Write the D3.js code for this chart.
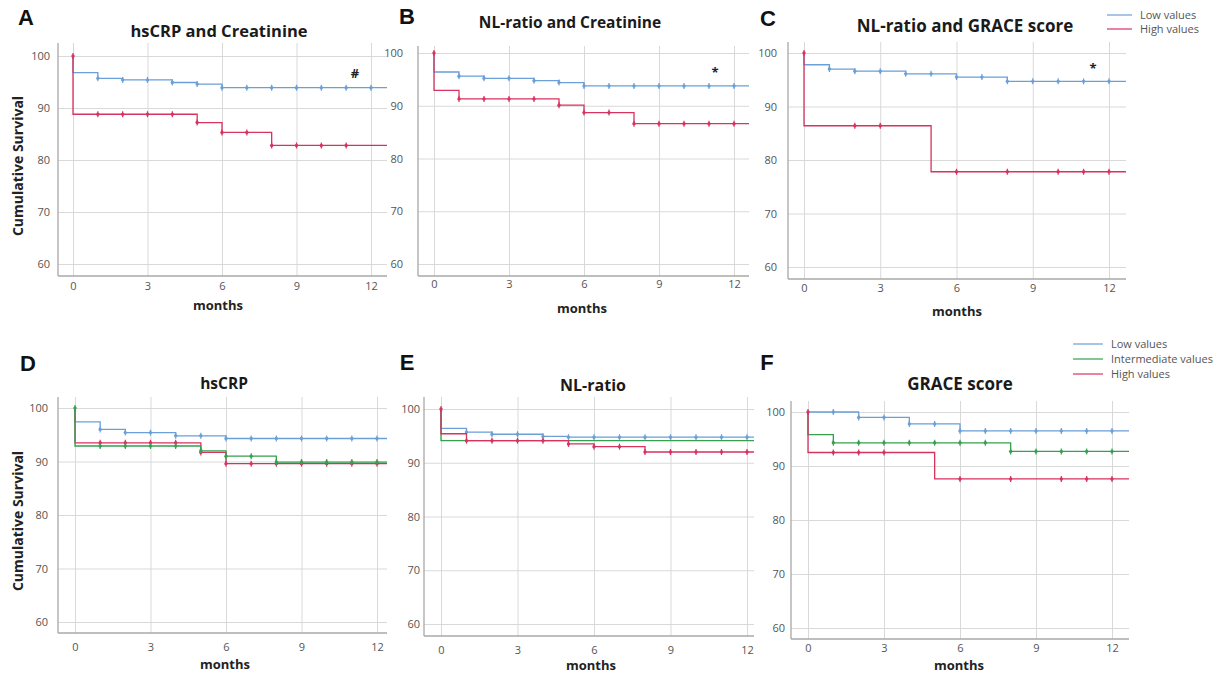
<!DOCTYPE html>
<html>
<head>
<meta charset="utf-8">
<script src="https://cdn.jsdelivr.net/npm/d3@7"></script>
<style>
body { margin: 0; background: #fff; }
text { font-family: "Open Sans", sans-serif; }
</style>
</head>
<body>
<svg width="1224" height="676"></svg>
<script>
// months of follow-up, one value per month (level after that month's step)
var months = d3.range(0, 13);
var yTicks = [60, 70, 80, 90, 100];
var xTicks = [0, 3, 6, 9, 12];

// A - hsCRP and Creatinine
var aLow  = [96.8, 95.7, 95.4, 95.4, 94.9, 94.6, 93.9, 93.9, 93.9, 93.9, 93.9, 93.9, 93.9];
var aLowCens  = [1, 2, 3, 4, 5, 6, 7, 8, 9, 10, 11, 12];
var aHigh = [88.8, 88.8, 88.8, 88.8, 88.8, 87.2, 85.3, 85.3, 82.8, 82.8, 82.8, 82.8, 82.8];
var aHighCens = [0, 1, 2, 3, 4, 5, 6, 7, 8, 9, 10, 11];

// B - NL-ratio and Creatinine
var bLow  = [96.4, 95.6, 95.2, 95.2, 94.75, 94.4, 93.75, 93.75, 93.75, 93.75, 93.75, 93.75, 93.75];
var bLowCens  = [1, 2, 3, 4, 5, 6, 7, 8, 9, 10, 11, 12];
var bHigh = [92.9, 91.3, 91.3, 91.3, 91.3, 90.1, 88.7, 88.7, 86.6, 86.6, 86.6, 86.6, 86.6];
var bHighCens = [0, 1, 2, 3, 4, 5, 6, 7, 8, 9, 10, 11, 12];

// C - NL-ratio and GRACE score
var cLow  = [97.8, 97.0, 96.6, 96.6, 96.1, 96.1, 95.5, 95.5, 94.7, 94.7, 94.7, 94.7, 94.7];
var cLowCens  = [1, 2, 3, 4, 5, 6, 7, 8, 9, 10, 11, 12];
var cHigh = [86.4, 86.4, 86.4, 86.4, 86.4, 77.8, 77.8, 77.8, 77.8, 77.8, 77.8, 77.8, 77.8];
var cHighCens = [0, 2, 3, 6, 8, 10, 11, 12];

// D - hsCRP (tertiles)
var dLow   = [97.4, 96.0, 95.4, 95.4, 94.8, 94.8, 94.3, 94.3, 94.3, 94.3, 94.3, 94.3, 94.3];
var dLowCens   = [1, 2, 3, 4, 5, 6, 7, 8, 9, 10, 11, 12];
var dHigh  = [93.5, 93.5, 93.5, 93.5, 93.5, 91.7, 89.6, 89.6, 89.6, 89.6, 89.6, 89.6, 89.6];
var dHighCens  = [1, 2, 3, 4, 5, 6, 7, 8, 9, 10, 11, 12];
var dInter = [92.9, 92.9, 92.9, 92.9, 92.9, 92.0, 91.0, 91.0, 89.9, 89.9, 89.9, 89.9, 89.9];
var dInterCens = [0, 1, 2, 3, 4, 5, 6, 7, 8, 9, 10, 11, 12];

// E - NL-ratio (tertiles)
var eLow   = [96.4, 95.7, 95.3, 95.3, 94.9, 94.75, 94.75, 94.75, 94.75, 94.75, 94.75, 94.75, 94.75];
var eLowCens   = [1, 2, 3, 4, 5, 6, 7, 8, 9, 10, 11, 12];
var eInter = [94.1, 94.1, 94.1, 94.1, 94.1, 94.1, 94.1, 94.1, 94.1, 94.1, 94.1, 94.1, 94.1];
var eInterCens = [];
var eHigh  = [95.4, 94.1, 94.1, 94.1, 94.1, 93.5, 93.0, 93.0, 92.0, 92.0, 92.0, 92.0, 92.0];
var eHighCens  = [0, 1, 2, 3, 4, 5, 6, 7, 8, 9, 10, 11, 12];

// F - GRACE score (tertiles)
var fLow   = [100, 100, 99.0, 99.0, 97.8, 97.8, 96.5, 96.5, 96.5, 96.5, 96.5, 96.5, 96.5];
var fLowCens   = [1, 2, 3, 4, 5, 6, 7, 8, 9, 10, 11, 12];
var fInter = [95.8, 94.3, 94.3, 94.3, 94.3, 94.3, 94.3, 94.3, 92.7, 92.7, 92.7, 92.7, 92.7];
var fInterCens = [1, 2, 3, 4, 5, 6, 7, 8, 9, 10, 11, 12];
var fHigh  = [92.5, 92.5, 92.5, 92.5, 92.5, 87.6, 87.6, 87.6, 87.6, 87.6, 87.6, 87.6, 87.6];
var fHighCens  = [0, 1, 2, 3, 6, 8, 10, 11, 12];

var colors = { low: '#6b9fd8', inter: '#35a04e', high: '#d8325f' };

var panels = [
  { letter: 'A', title: 'hsCRP and Creatinine', mark: '#', series: [['low', aLow, aLowCens], ['high', aHigh, aHighCens]] },
  { letter: 'B', title: 'NL-ratio and Creatinine', mark: '*', series: [['low', bLow, bLowCens], ['high', bHigh, bHighCens]] },
  { letter: 'C', title: 'NL-ratio and GRACE score', mark: '*', series: [['low', cLow, cLowCens], ['high', cHigh, cHighCens]] },
  { letter: 'D', title: 'hsCRP', series: [['low', dLow, dLowCens], ['high', dHigh, dHighCens], ['inter', dInter, dInterCens]] },
  { letter: 'E', title: 'NL-ratio', series: [['low', eLow, eLowCens], ['inter', eInter, eInterCens], ['high', eHigh, eHighCens]] },
  { letter: 'F', title: 'GRACE score', series: [['low', fLow, fLowCens], ['inter', fInter, fInterCens], ['high', fHigh, fHighCens]] }
];

// pixel layout of each panel (the source figure is a collage, each panel a bit different)
var boxes = [
  { x0: 73,  x12: 371,  left: 58,  right: 387,  y100: 56,  y60: 264, bottom: 276, top: 43,  gap: 8,  xpad: 6,  tx: 219, ty: 31,  tf: 16.5, lx: 26,  ly: 17,  mx: 218, my: 305, sx: 355,  sy: 73, ylab: true },
  { x0: 434, x12: 734,  left: 418, right: 749,  y100: 53,  y60: 264, bottom: 276, top: 46,  gap: 15, xpad: 4,  tx: 570, ty: 23,  tf: 15.5, lx: 407, ly: 16,  mx: 582, my: 308, sx: 715,  sy: 72 },
  { x0: 804, x12: 1109, left: 788, right: 1126, y100: 53,  y60: 267, bottom: 279, top: 42,  gap: 11, xpad: 5,  tx: 965, ty: 26,  tf: 17,   lx: 768, ly: 18,  mx: 957, my: 311, sx: 1093, sy: 68 },
  { x0: 75,  x12: 377,  left: 58,  right: 387,  y100: 408, y60: 622, bottom: 633, top: 397, gap: 10, xpad: 10, tx: 224, ty: 384, tf: 15.5, lx: 28,  ly: 363, mx: 225, my: 664, ylab: true },
  { x0: 441, x12: 747,  left: 424, right: 754,  y100: 409, y60: 624, bottom: 636, top: 397, gap: 4,  xpad: 10, tx: 593, ty: 385, tf: 16,   lx: 407, ly: 362, mx: 591, my: 665 },
  { x0: 808, x12: 1112, left: 791, right: 1129, y100: 412, y60: 628, bottom: 639, top: 401, gap: 6,  xpad: 5,  tx: 960, ty: 384, tf: 17,   lx: 767, ly: 362, mx: 959, my: 665 }
];

var svg = d3.select('svg');

panels.forEach(function (p, i) {
  var b = boxes[i];
  var x = d3.scaleLinear().domain([0, 12]).range([b.x0, b.x12]);
  var y = d3.scaleLinear().domain([60, 100]).range([b.y60, b.y100]);
  var g = svg.append('g');

  // grid
  g.append('g')
    .attr('transform', 'translate(' + b.left + ',0)')
    .call(d3.axisLeft(y).tickValues(yTicks).tickSize(-(b.right - b.left)).tickFormat(''))
    .call(s => s.select('.domain').remove())
    .selectAll('line').attr('stroke', '#d9d9d9');
  g.append('g')
    .attr('transform', 'translate(0,' + b.bottom + ')')
    .call(d3.axisBottom(x).tickValues(xTicks).tickSize(-(b.bottom - b.top)).tickFormat(''))
    .call(s => s.select('.domain').remove())
    .selectAll('line').attr('stroke', '#d9d9d9');

  // axis lines
  g.append('line').attr('x1', b.left).attr('x2', b.left).attr('y1', b.top).attr('y2', b.bottom)
    .attr('stroke', '#a8a8a8').attr('stroke-width', 1.3);
  g.append('line').attr('x1', b.left).attr('x2', b.right).attr('y1', b.bottom).attr('y2', b.bottom)
    .attr('stroke', '#a8a8a8').attr('stroke-width', 1.3);

  // tick labels
  g.append('g')
    .attr('transform', 'translate(' + b.left + ',0)')
    .call(d3.axisLeft(y).tickValues(yTicks).tickSize(0).tickPadding(b.gap))
    .call(s => s.select('.domain').remove())
    .selectAll('text').attr('fill', '#555').style('font-size', '11px').style('font-family', '"Open Sans", sans-serif');
  g.append('g')
    .attr('transform', 'translate(0,' + b.bottom + ')')
    .call(d3.axisBottom(x).tickValues(xTicks).tickSize(0).tickPadding(b.xpad))
    .call(s => s.select('.domain').remove())
    .selectAll('text').attr('fill', '#555').style('font-size', '11px').style('font-family', '"Open Sans", sans-serif');

  // survival curves
  var xEnd = x.invert(b.right);
  var line = d3.line().x(d => x(d[0])).y(d => y(d[1])).curve(d3.curveStepAfter);

  p.series.forEach(function (s) {
    var vals = s[1];
    var pts = [[0, 100]].concat(months.map((m, k) => [m, vals[k]])).concat([[xEnd, vals[12]]]);
    g.append('path')
      .attr('d', line(pts))
      .attr('fill', 'none')
      .attr('stroke', colors[s[0]])
      .attr('stroke-width', 1.3);

    var cens = g.append('g').selectAll('g')
      .data(s[2])
      .enter()
      .append('g')
        .attr('transform', m => 'translate(' + x(m) + ',' + y(m === 0 ? 100 : vals[m]) + ')');
    cens.append('line').attr('y1', -3).attr('y2', 3).attr('stroke', colors[s[0]]).attr('stroke-width', 1.2);
    cens.append('circle').attr('r', 1.7).attr('fill', colors[s[0]]);
  });

  // text
  g.append('text')
    .attr('x', b.tx).attr('y', b.ty).attr('dy', '0.35em')
    .style('text-anchor', 'middle').style('font-size', b.tf + 'px').style('font-weight', 'bold')
    .attr('fill', '#1a1a1a')
    .text(p.title);

  g.append('text')
    .attr('x', b.lx).attr('y', b.ly).attr('dy', '0.35em')
    .style('text-anchor', 'middle').style('font-size', '22px').style('font-weight', 'bold')
    .style('font-family', '"Liberation Sans", Arial, sans-serif')
    .attr('fill', '#111')
    .text(p.letter);

  g.append('text')
    .attr('x', b.mx).attr('y', b.my).attr('dy', '0.35em')
    .style('text-anchor', 'middle').style('font-size', '13px').style('font-weight', 'bold')
    .attr('fill', '#222')
    .text('months');

  if (b.ylab) {
    g.append('text')
      .attr('transform', 'rotate(-90)')
      .attr('x', -(b.y100 + b.y60) / 2 - 6).attr('y', 18).attr('dy', '0.35em')
      .style('text-anchor', 'middle').style('font-size', '14px').style('font-weight', 'bold')
      .attr('fill', '#222')
      .text('Cumulative Survival');
  }

  if (p.mark) {
    g.append('text')
      .attr('x', b.sx).attr('y', b.sy).attr('dy', '0.35em')
      .style('text-anchor', 'middle').style('font-size', '13px').style('font-weight', 'bold')
      .attr('fill', '#222')
      .text(p.mark);
  }
});

// legends
var legendTop = [['low', 'Low values'], ['high', 'High values']];
var legendBottom = [['low', 'Low values'], ['inter', 'Intermediate values'], ['high', 'High values']];

function drawLegend(items, lx, ly, len, step) {
  var lg = svg.append('g').selectAll('g')
    .data(items)
    .enter()
    .append('g')
      .attr('transform', (d, k) => 'translate(' + lx + ',' + (ly + k * step) + ')');
  lg.append('line').attr('x1', 0).attr('x2', len)
    .attr('stroke', d => colors[d[0]]).attr('stroke-width', 1.2);
  lg.append('text').attr('x', len + 8).attr('dy', '0.35em')
    .style('font-size', '11px').attr('fill', '#555')
    .text(d => d[1]);
}

drawLegend(legendTop, 1107, 15, 25, 14);
drawLegend(legendBottom, 1073, 344, 30, 15);
</script>
</body>
</html>
